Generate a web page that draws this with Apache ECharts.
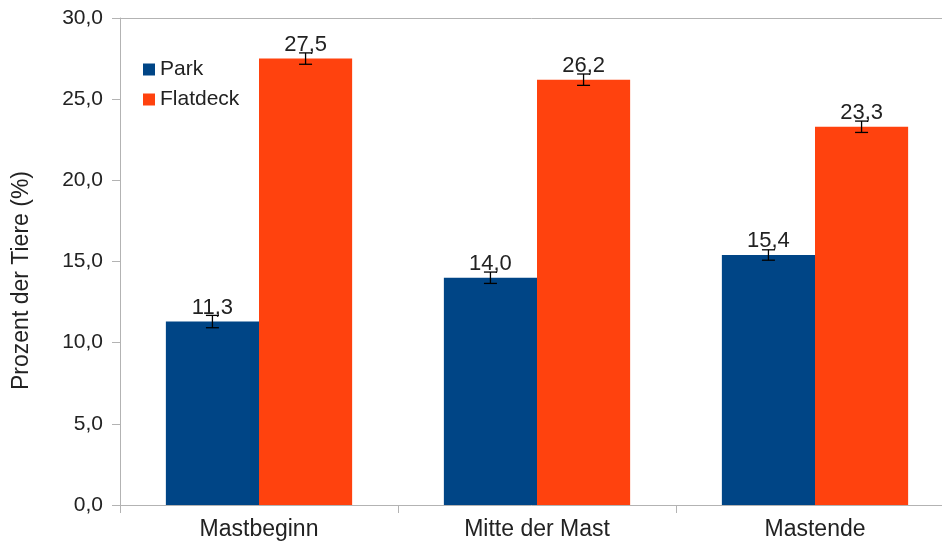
<!DOCTYPE html>
<html><head><meta charset="utf-8">
<script src="https://cdn.jsdelivr.net/npm/echarts@6/dist/echarts.min.js"></script>
<style>html,body{margin:0;padding:0;background:#fff}#c{width:942px;height:547px}</style>
</head><body><div id="c"></div>
<script>
var categories = ['Mastbeginn', 'Mitte der Mast', 'Mastende'];
var parkValues = [11.3, 14.0, 15.4];
var flatdeckValues = [27.5, 26.2, 23.3];
var parkErrors = [0.38, 0.35, 0.32];
var flatdeckErrors = [0.35, 0.35, 0.35];
var yTicks = [0, 5, 10, 15, 20, 25, 30];

var FONT = '"Liberation Sans", Arial, sans-serif';
var fmt = function (v) { return Number(v).toFixed(1).replace('.', ','); };
var catGap = 0.33;

function errSeries(values, errs, side) {
  var data = values.map(function (v, i) { return [i, v - errs[i], v + errs[i]]; });
  return {
    type: 'custom',
    xAxisIndex: 0, yAxisIndex: 0,
    z: 5,
    silent: true,
    clip: false,
    data: data,
    renderItem: function (params, api) {
      var i = api.value(0);
      var lo = api.coord([i, api.value(1)]);
      var hi = api.coord([i, api.value(2)]);
      var band = api.size([1, 0])[0];
      var bw = band * (1 - catGap) / 2;
      var x = lo[0] + side * bw / 2;
      var cap = 6.5;
      var st = { stroke: '#000', lineWidth: 1.3 };
      return { type: 'group', children: [
        { type: 'line', shape: { x1: x, y1: lo[1], x2: x, y2: hi[1] }, style: st },
        { type: 'line', shape: { x1: x - cap, y1: lo[1], x2: x + cap, y2: lo[1] }, style: st },
        { type: 'line', shape: { x1: x - cap, y1: hi[1], x2: x + cap, y2: hi[1] }, style: st }
      ]};
    }
  };
}

var chart = echarts.init(document.getElementById('c'));
chart.setOption({
  animation: false,
  textStyle: { fontFamily: FONT },
  grid: { left: 120, top: 18, bottom: 42, width: 834, containLabel: false, outerBoundsMode: 'none' },
  legend: {
    left: 138, top: 54, orient: 'vertical', itemGap: 9,
    itemWidth: 12, itemHeight: 12,
    icon: 'rect',
    textStyle: { fontSize: 21, color: '#222', fontFamily: FONT },
    data: ['Park', 'Flatdeck']
  },
  xAxis: [{
    type: 'category', data: categories,
    axisLine: { lineStyle: { color: '#b3b3b3', width: 1 } },
    axisTick: { show: true, length: 8, alignWithLabel: false, lineStyle: { color: '#b3b3b3' } },
    axisLabel: { fontSize: 23, color: '#222', margin: 13, fontFamily: FONT }
  }, {
    type: 'category', data: categories, position: 'top',
    axisLine: { show: true, lineStyle: { color: '#b3b3b3', width: 1 } },
    axisTick: { show: false }, axisLabel: { show: false }
  }],
  yAxis: {
    type: 'value', min: yTicks[0], max: yTicks[yTicks.length - 1], interval: 5,
    name: 'Prozent der Tiere (%)', nameLocation: 'middle', nameGap: 87, nameRotate: 90,
    nameTextStyle: { fontSize: 23, color: '#222', fontFamily: FONT, padding: [0, 38, 0, 0] },
    axisLine: { show: true, lineStyle: { color: '#b3b3b3', width: 1 } },
    axisTick: { show: true, length: 8, lineStyle: { color: '#b3b3b3' } },
    splitLine: { show: false },
    axisLabel: { fontSize: 21, color: '#222', margin: 17, fontFamily: FONT, formatter: fmt }
  },
  series: [{
    name: 'Park', type: 'bar', data: parkValues,
    barGap: '0%', barCategoryGap: '33%',
    itemStyle: { color: '#004586' },
    label: { show: true, position: 'top', distance: 3, fontSize: 22, color: '#222', fontFamily: FONT, formatter: function (p) { return fmt(p.value); } }
  }, {
    name: 'Flatdeck', type: 'bar', data: flatdeckValues,
    barGap: '0%', barCategoryGap: '33%',
    itemStyle: { color: '#ff420e' },
    label: { show: true, position: 'top', distance: 3, fontSize: 22, color: '#222', fontFamily: FONT, formatter: function (p) { return fmt(p.value); } }
  },
  errSeries(parkValues, parkErrors, -1),
  errSeries(flatdeckValues, flatdeckErrors, 1)
  ]
});
</script></body></html>
